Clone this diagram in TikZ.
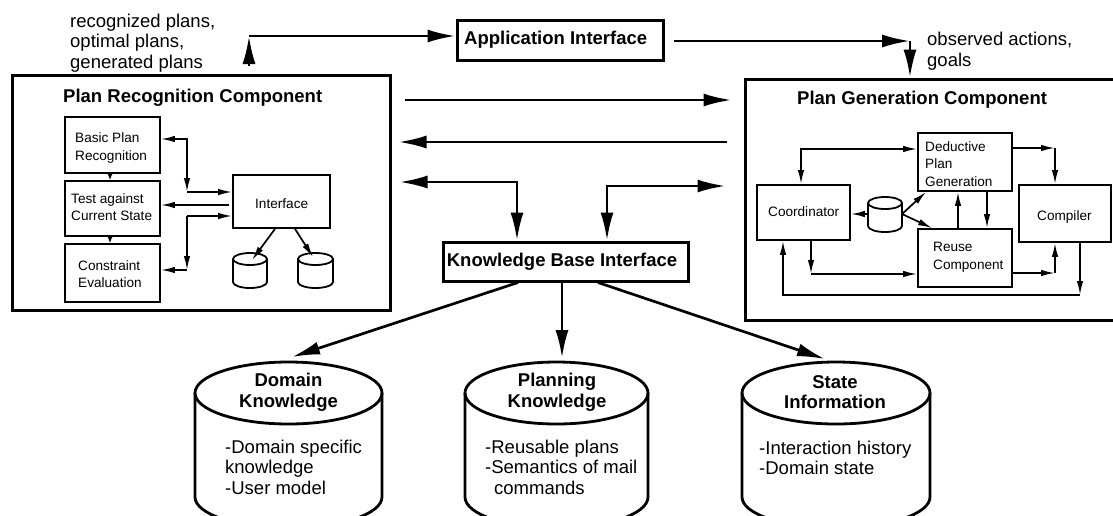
\documentclass[tikz,border=0pt]{standalone}
\usepackage{fontspec}
\setmainfont{Liberation Sans}
\usetikzlibrary{arrows.meta,calc}

% cylinder: centre x, x radius, top-ellipse centre y, bottom-ellipse centre y, y radius
\newcommand\drawdrum[5]{%
  \draw (#1,#3) ellipse [x radius=#2, y radius=#5];
  \draw (#1-#2,#3) -- (#1-#2,#4) arc[start angle=180, end angle=0, x radius=#2, y radius=#5] -- (#1+#2,#3);
}

\tikzset{
  BigTip/.tip={Latex[length=28pt,width=13pt]},
  SmallTip/.tip={Latex[length=14pt,width=6.5pt]},
  TinyTip/.tip={Latex[length=7pt,width=6pt]},
  mainline/.style={line width=2.7pt},
  innerline/.style={line width=1.7pt},
  outerbox/.style={draw, line width=3pt, inner sep=0pt},
  innerbox/.style={draw, line width=1.8pt, inner sep=0pt},
  bigtxt/.style={font=\fontsize{18.5}{20.5}\selectfont, inner sep=0pt, align=left},
  bigbold/.style={font=\fontsize{18.5}{20.5}\selectfont\bfseries, inner sep=0pt, align=center},
  smalltxt/.style={font=\fontsize{13.6}{17.5}\selectfont, inner sep=0pt, align=left},
}

\begin{document}
\begin{tikzpicture}[x=1pt,y=-1pt]
\useasboundingbox (0,0) rectangle (1113,515);
\fill[white] (0,0) rectangle (1113,515);

% ---------- main boxes ----------
\node[outerbox, minimum width=378, minimum height=235] (pr) at (201,192.5) {};
\node[outerbox, minimum width=371, minimum height=241] (pg) at (930.5,199.5) {};
\node[outerbox, minimum width=206, minimum height=40] (app) at (560,40) {};
\node[outerbox, minimum width=245, minimum height=39] (kb) at (565.5,261.5) {};

\node[bigbold, anchor=west] (app-t) at (464,40) {Application Interface};
\node[bigbold] (kb-t) at (562,262) {Knowledge Base Interface};
\node[bigbold, anchor=west] (pr-t) at (63,98) {Plan Recognition Component};
\node[bigbold, anchor=west] (pg-t) at (797,100) {Plan Generation Component};
\node[bigtxt, anchor=west] (out-t) at (70,43) {recognized plans,\\optimal plans,\\generated plans};
\node[bigtxt, anchor=west] (in-t) at (927,51) {observed actions,\\goals};

% ---------- application interface links ----------
\coordinate (tl) at (249,36);
\draw[mainline, -BigTip, shorten <=8pt] (pr.north -| tl) -- (tl);
\draw[mainline, -BigTip] (tl) -- (app.west |- tl);
\coordinate (tr) at (910,41);
\draw[mainline, -BigTip, shorten <=9pt] (app.east |- tr) -- (tr);
\draw[mainline, -BigTip] (tr) -- (pg.north -| tr);

% ---------- links between the components ----------
\coordinate (m1) at (0,100);
\coordinate (m2) at (0,142);
\draw[mainline, -BigTip, shorten <=13pt, shorten >=12pt] (pr.east |- m1) -- (pg.west |- m1);
\draw[mainline, -BigTip, shorten <=17pt, shorten >=7pt] (pg.west |- m2) -- (pr.east |- m2);
\coordinate (m3) at (517,182);
\draw[mainline, BigTip-BigTip, shorten <=8pt] (pr.east |- m3) -- (m3) -- (kb.north -| m3);
\coordinate (m4) at (607,186);
\draw[mainline, BigTip-BigTip, shorten >=18pt] (kb.north -| m4) -- (m4) -- (pg.west |- m4);

% ---------- knowledge bases ----------
\begin{scope}[line width=2.8pt]
  \drawdrum{288.5}{93.5}{393}{497}{31}
  \drawdrum{556.5}{91.5}{393}{497}{31}
  \drawdrum{836}{94}{393}{497}{31}
\end{scope}
\node[bigbold] (dk-h) at (288.5,392) {Domain\\Knowledge};
\node[bigtxt, anchor=west] (dk-b) at (225,467) {-Domain specific\\knowledge\\-User model};
\node[bigbold] (pk-h) at (557,392) {Planning\\Knowledge};
\node[bigtxt, anchor=west] (pk-b) at (485,467) {-Reusable plans\\-Semantics of mail\\\hspace*{9pt}commands};
\node[bigbold] (sk-h) at (835,392) {State\\Information};
\node[bigtxt, anchor=west] (sk-b) at (759,458) {-Interaction history\\-Domain state};

\coordinate (dk-in) at (292,357);
\coordinate (pk-in) at (562,358);
\coordinate (sk-in) at (825,359);
\draw[mainline, -BigTip] ([xshift=-47.5pt]kb.south) -- (dk-in);
\draw[mainline, -BigTip] ([xshift=-3.5pt]kb.south) -- (pk-in);
\draw[mainline, -BigTip] ([xshift=32.5pt]kb.south) -- (sk-in);

% ---------- plan recognition internals ----------
\node[innerbox, minimum width=95, minimum height=56] (basic) at (112.5,145) {};
\node[innerbox, minimum width=95, minimum height=55] (test) at (112.5,208.5) {};
\node[innerbox, minimum width=95, minimum height=58] (constr) at (112.5,273) {};
\node[innerbox, minimum width=97, minimum height=53] (iface) at (281.5,201.5) {};
\node[smalltxt, anchor=west] (basic-t) at (75,148) {Basic Plan\\Recognition};
\node[smalltxt, anchor=west] (test-t) at (71,207) {Test against\\Current State};
\node[smalltxt, anchor=west] (constr-t) at (78,274) {Constraint\\Evaluation};
\node[smalltxt, anchor=west] (iface-t) at (255,204) {Interface};

\begin{scope}[line width=1.8pt]
  \drawdrum{250}{17}{259}{282}{6}
  \drawdrum{315.5}{17.5}{259}{282}{6}
\end{scope}

\coordinate (pa1) at (187,139);
\coordinate (pa2) at (187,192);
\draw[innerline, SmallTip-SmallTip] (basic.east |- pa1) -- (pa1) -- (pa2);
\draw[innerline, -SmallTip] (pa2) -- (iface.west |- pa2);
\coordinate (pb) at (0,205);
\draw[innerline, -SmallTip, shorten <=3pt] (iface.west |- pb) -- (test.east |- pb);
\coordinate (pc1) at (187,216);
\coordinate (pc2) at (187,270);
\draw[innerline, -SmallTip] (pc1) -- (iface.west |- pc1);
\draw[innerline, -SmallTip] (pc1) -- (pc2);
\draw[innerline, -SmallTip] (pc2) -- (constr.east |- pc2);
\draw[innerline, -TinyTip] ([xshift=-2.5pt]basic.south) -- ([xshift=-2.5pt]test.north);
\draw[innerline, -TinyTip] ([xshift=-2.5pt]test.south) -- ([xshift=-2.5pt]constr.north);

\coordinate (db1) at (252,260);
\coordinate (db2) at (313,257);
\draw[innerline, -SmallTip] ([xshift=-6.5pt]iface.south) -- (db1);
\draw[innerline, -SmallTip] ([xshift=13.5pt]iface.south) -- (db2);

% ---------- plan generation internals ----------
\node[innerbox, minimum width=93, minimum height=55] (coord) at (803.5,212.5) {};
\node[innerbox, minimum width=94, minimum height=58] (deduct) at (965,162) {};
\node[innerbox, minimum width=94, minimum height=58] (reuse) at (965,258) {};
\node[innerbox, minimum width=92, minimum height=57] (comp) at (1065,213.5) {};
\node[smalltxt, anchor=west] (coord-t) at (768,212) {Coordinator};
\node[smalltxt, anchor=west] (deduct-t) at (925,164) {Deductive\\Plan\\Generation};
\node[smalltxt, anchor=west] (reuse-t) at (933,257) {Reuse\\Component};
\node[smalltxt, anchor=west] (comp-t) at (1037,217) {Compiler};

\begin{scope}[line width=1.8pt]
  \drawdrum{885}{17}{203}{226}{6}
\end{scope}

\coordinate (g1) at (801,149);
\draw[innerline, SmallTip-SmallTip] (coord.north -| g1) -- (g1) -- (deduct.west |- g1);
\coordinate (g2) at (1055,148);
\draw[innerline, -SmallTip] (deduct.east |- g2) -- (g2);
\draw[innerline, -SmallTip] (g2) -- (comp.north -| g2);
\coordinate (g3) at (1055,273);
\draw[innerline, -SmallTip] (reuse.east |- g3) -- (g3);
\draw[innerline, -SmallTip] (g3) -- (comp.south -| g3);
\coordinate (g4) at (811,274);
\draw[innerline, -SmallTip] (coord.south -| g4) -- (g4);
\draw[innerline, -SmallTip] (g4) -- (reuse.west |- g4);
\coordinate (g5) at (1080,295);
\coordinate (g6) at (783,295);
\draw[innerline, -SmallTip] (comp.south -| g5) -- (g5);
\draw[innerline, -SmallTip] (g5) -- (g6) -- (coord.south -| g6);
\draw[innerline, -SmallTip] ([xshift=-7pt]reuse.north) -- ([xshift=-7pt]deduct.south);
\draw[innerline, -SmallTip] ([xshift=22pt]deduct.south) -- ([xshift=22pt]reuse.north);

\coordinate (pgdb-w) at (868,214);
\coordinate (pgdb-e) at (902,214);
\draw[innerline, -SmallTip] (pgdb-w) -- (coord.east |- pgdb-w);
\draw[innerline, -SmallTip] (pgdb-e) -- ([xshift=9pt]deduct.south west);
\draw[innerline, -SmallTip] (pgdb-e) -- ([xshift=15pt]reuse.north west);
\end{tikzpicture}
\end{document}
